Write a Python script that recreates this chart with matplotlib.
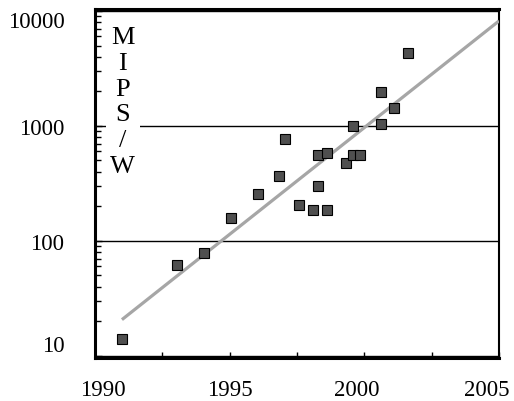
import matplotlib.pyplot as plt
import numpy as np
from matplotlib.ticker import FixedLocator, NullFormatter
from matplotlib.transforms import ScaledTranslation

# data
years = [1991.0, 1993.06, 1994.05, 1995.04, 1996.06, 1996.83, 1997.07, 1997.59,
         1998.08, 1998.29, 1998.29, 1998.6, 1998.6, 1999.32, 1999.57, 1999.59,
         1999.84, 2000.61, 2000.61, 2001.1, 2001.63]
mips_per_w = [14, 61, 78, 157, 255, 367, 766, 204,
              186, 297, 556, 579, 186, 474, 556, 1000,
              556, 1030, 1990, 1445, 4285]
fit_years = [1991.0, 2005.0]
fit_vals = [20.6, 8190]

x_ticks = [1990, 1995, 2000, 2005]
x_minor = [1992.5, 1997.5, 2002.5]
y_ticks = [10, 100, 1000, 10000]

plt.rcParams['font.family'] = ['Liberation Serif', 'DejaVu Serif']

fig = plt.figure(figsize=(5.14, 4.02), dpi=100)
ax = fig.add_axes([95 / 514, 1 - 359 / 402, 404 / 514, 349 / 402])

ax.plot(fit_years, fit_vals, color='#a6a6a6', lw=2.3, solid_capstyle='butt', zorder=3)
ax.plot(years, mips_per_w, 's', ms=6.6, mfc='#4f4f4f', mec='black', mew=0.8, zorder=4)

ax.set_yscale('log')
ax.set_xlim(1990, 2005)
ax.set_ylim(9.55, 10400)

ax.set_xticks(x_ticks)
ax.set_xticklabels([str(t) for t in x_ticks])
ax.xaxis.set_minor_locator(FixedLocator(x_minor))
ax.set_yticks(y_ticks)
ax.set_yticklabels([str(t) for t in y_ticks])
ax.yaxis.set_minor_formatter(NullFormatter())

ax.tick_params(axis='x', which='both', direction='in', length=4, width=1, pad=15, labelsize=16.5)
ax.tick_params(axis='y', which='major', direction='in', length=5, width=1, pad=22, labelsize=16.5)
ax.tick_params(axis='y', which='minor', direction='in', length=4, width=1)
ax.tick_params(top=False, right=False, which='both')

labs = ax.get_yticklabels()
labs[0].set_va('bottom')
labs[-1].set_va('top')

# the original x labels sit a little off their ticks
shifts = [8, 0, -8, -12]
for lab, dx in zip(ax.get_xticklabels(), shifts):
    lab.set_transform(lab.get_transform() + ScaledTranslation(dx / 100, 0, fig.dpi_scale_trans))

ax.grid(axis='y', which='major', color='black', lw=1)
ax.set_axisbelow(True)

for side in ['left', 'bottom', 'top']:
    ax.spines[side].set_linewidth(2.2)
ax.spines['right'].set_linewidth(1.5)

ax.text(0.069, 0.952, 'M\nI\nP\nS\n/\nW', transform=ax.transAxes, ha='center', va='top',
        fontsize=19, linespacing=1.23, zorder=5,
        bbox=dict(facecolor='white', edgecolor='none', pad=3))

fig.savefig('out.png', dpi=100)
